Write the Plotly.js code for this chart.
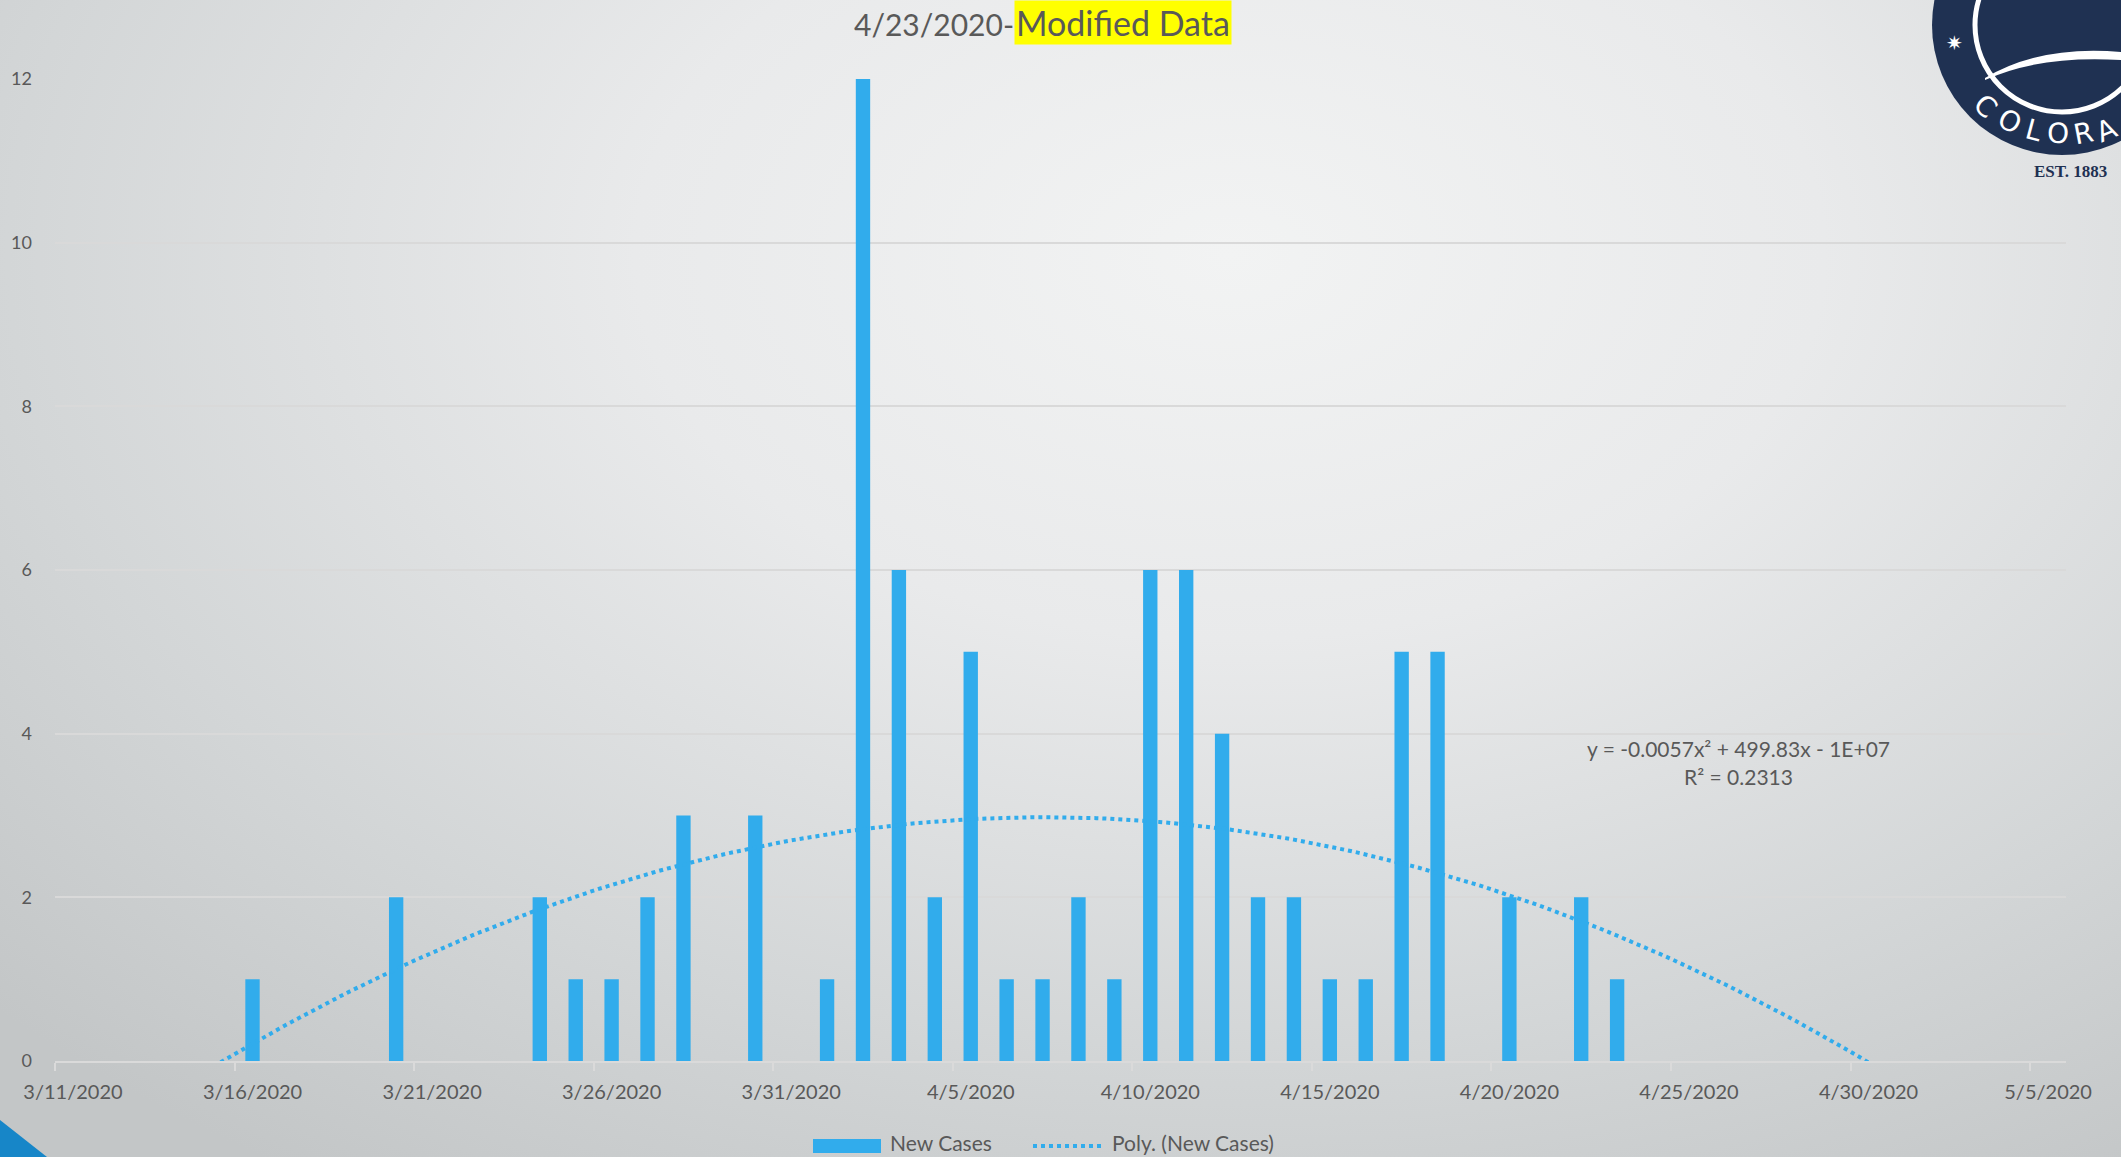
<!DOCTYPE html>
<html>
<head>
<meta charset="utf-8">
<script src="https://cdn.plot.ly/plotly-3.0.1.min.js"></script>
<style>
  html, body { margin: 0; padding: 0; width: 2121px; height: 1157px; overflow: hidden; }
  body { background: radial-gradient(ellipse 80% 95% at 58% 22%, #f2f3f3 0%, #e9eaeb 35%, #d3d6d7 72%, #c3c6c7 100%); }
  #chart { width: 2121px; height: 1157px; }
</style>
</head>
<body>
<div id="chart"></div>
<script>
// ---- data ----
const dates = [
  '2020-03-11','2020-03-12','2020-03-13','2020-03-14','2020-03-15','2020-03-16','2020-03-17',
  '2020-03-18','2020-03-19','2020-03-20','2020-03-21','2020-03-22','2020-03-23','2020-03-24',
  '2020-03-25','2020-03-26','2020-03-27','2020-03-28','2020-03-29','2020-03-30','2020-03-31',
  '2020-04-01','2020-04-02','2020-04-03','2020-04-04','2020-04-05','2020-04-06','2020-04-07',
  '2020-04-08','2020-04-09','2020-04-10','2020-04-11','2020-04-12','2020-04-13','2020-04-14',
  '2020-04-15','2020-04-16','2020-04-17','2020-04-18','2020-04-19','2020-04-20','2020-04-21',
  '2020-04-22','2020-04-23'
];
const newCases = [
  0,0,0,0,0,1,0,
  0,0,2,0,0,0,2,
  1,1,2,3,0,3,0,
  1,12,6,2,5,1,1,
  2,1,6,6,4,2,2,
  1,1,5,5,0,2,0,
  2,1
];
const seriesName = 'New Cases';
const trendName = 'Poly. (New Cases)';
const titleDate = '4/23/2020-';
const titleHighlight = 'Modified Data';
const eqLine1 = 'y = -0.0057x² + 499.83x - 1E+07';
const eqLine2 = 'R² = 0.2313';
const yTicks = [0, 2, 4, 6, 8, 10, 12];
const xRange = ['2020-03-11', '2020-05-06'];

// ---- polynomial (order 2) least-squares trendline computed from the data ----
const DAY = 86400000;
const t0 = Date.parse(dates[0] + 'T00:00:00Z');
const ts = dates.map(d => (Date.parse(d + 'T00:00:00Z') - t0) / DAY);
function fitQuad(xs, ys) {
  let S = [0,0,0,0,0], T = [0,0,0];
  for (let i = 0; i < xs.length; i++) {
    let p = 1;
    for (let k = 0; k < 5; k++) { S[k] += p; if (k < 3) T[k] += p * ys[i]; p *= xs[i]; }
  }
  const A = [[S[0],S[1],S[2],T[0]],[S[1],S[2],S[3],T[1]],[S[2],S[3],S[4],T[2]]];
  for (let c = 0; c < 3; c++) {
    for (let r = c + 1; r < 3; r++) {
      const f = A[r][c] / A[c][c];
      for (let k = c; k < 4; k++) A[r][k] -= f * A[c][k];
    }
  }
  const x = [0,0,0];
  for (let r = 2; r >= 0; r--) {
    let s = A[r][3];
    for (let k = r + 1; k < 3; k++) s -= A[r][k] * x[k];
    x[r] = s / A[r][r];
  }
  return x; // c0 + c1 t + c2 t^2
}
const coef = fitQuad(ts, newCases);
const endT = (Date.parse(xRange[1] + 'T00:00:00Z') - t0) / DAY;
const trendX = [], trendY = [];
for (let t = 0; t <= endT; t += 0.25) {
  trendX.push(new Date(t0 + (t + 0.5) * DAY).toISOString());
  trendY.push(coef[0] + coef[1] * t + coef[2] * t * t);
}

// ---- styling ----
const FONT = 'Lato, "Open Sans", sans-serif';
const TXT = '#595959';
const BLUE = '#31acec';

// pixel -> paper helpers (plot area: x 55..2066, y 79..1061)
const L = 55, R = 55, TOP = 79, BOT = 96, W = 2121, H = 1157;
const PW = W - L - R, PH = H - TOP - BOT;
const px = X => (X - L) / PW;
const py = Y => (H - BOT - Y) / PH;

const traces = [
  {
    type: 'bar', name: seriesName, x: dates, y: newCases,
    xperiod: DAY, xperiodalignment: 'middle',
    marker: { color: BLUE, line: { width: 0 } },
    hoverinfo: 'x+y', showlegend: false
  },
  {
    type: 'scatter', mode: 'lines', name: trendName, x: trendX, y: trendY,
    line: { color: BLUE, width: 4, dash: 'dot' },
    hoverinfo: 'skip', showlegend: false
  }
];

// logo geometry (decorative, pixel space)
const LC = { x: 2062, y: 25, r: 130 };
const logoLetters = [
  { ch: 'C', X: 1986, Y: 106 }, { ch: 'O', X: 2010, Y: 121 }, { ch: 'L', X: 2034, Y: 130 },
  { ch: 'O', X: 2058, Y: 134 }, { ch: 'R', X: 2083, Y: 134 }, { ch: 'A', X: 2106, Y: 131 }
];

const shapes = [
  // logo seal
  { type: 'circle', xref: 'paper', yref: 'paper', layer: 'below',
    x0: px(LC.x - LC.r), x1: px(LC.x + LC.r), y0: py(LC.y + LC.r), y1: py(LC.y - LC.r),
    fillcolor: '#1f3152', line: { width: 0 } },
  { type: 'circle', xref: 'paper', yref: 'paper', layer: 'below',
    x0: px(LC.x - 87), x1: px(LC.x + 87), y0: py(LC.y + 87), y1: py(LC.y - 87),
    fillcolor: 'rgba(0,0,0,0)', line: { color: '#ffffff', width: 5 } },
  { type: 'path', xref: 'paper', yref: 'paper', layer: 'below',
    path: `M ${px(1985)},${py(78)} Q ${px(2040)},${py(45)} ${px(2121)},${py(52)} L ${px(2121)},${py(60)} Q ${px(2040)},${py(55)} ${px(1985)},${py(80)} Z`,
    fillcolor: '#ffffff', line: { width: 0 } },
  // blue corner triangle
  { type: 'path', xref: 'paper', yref: 'paper', layer: 'below',
    path: `M ${px(0)},${py(1120)} L ${px(47)},${py(1157)} L ${px(0)},${py(1157)} Z`,
    fillcolor: '#1786c8', line: { width: 0 } },
  // custom legend
  { type: 'rect', xref: 'paper', yref: 'paper',
    x0: px(813), x1: px(881), y0: py(1153), y1: py(1139),
    fillcolor: BLUE, line: { width: 0 } },
  { type: 'line', xref: 'paper', yref: 'paper',
    x0: px(1033), x1: px(1105), y0: py(1146), y1: py(1146),
    line: { color: BLUE, width: 4, dash: 'dot' } }
];

const annotations = [
  { xref: 'paper', yref: 'paper', x: px(1016), y: py(24), xanchor: 'right', yanchor: 'middle',
    text: titleDate, showarrow: false, font: { family: FONT, size: 30, color: TXT } },
  { xref: 'paper', yref: 'paper', x: px(1014), y: py(23), xanchor: 'left', yanchor: 'middle',
    text: titleHighlight, showarrow: false, bgcolor: '#ffff00', borderpad: 1,
    font: { family: FONT, size: 34, color: TXT } },
  { xref: 'paper', yref: 'paper', x: px(1738), y: py(748), xanchor: 'center', yanchor: 'middle',
    text: eqLine1, showarrow: false, font: { family: FONT, size: 21, color: TXT } },
  { xref: 'paper', yref: 'paper', x: px(1738), y: py(776), xanchor: 'center', yanchor: 'middle',
    text: eqLine2, showarrow: false, font: { family: FONT, size: 21, color: TXT } },
  { xref: 'paper', yref: 'paper', x: px(888), y: py(1142), xanchor: 'left', yanchor: 'middle',
    text: seriesName, showarrow: false, font: { family: FONT, size: 21, color: TXT } },
  { xref: 'paper', yref: 'paper', x: px(1110), y: py(1142), xanchor: 'left', yanchor: 'middle',
    text: trendName, showarrow: false, font: { family: FONT, size: 21, color: TXT } },
  // logo text
  { xref: 'paper', yref: 'paper', x: px(2070), y: py(171), xanchor: 'center', yanchor: 'middle',
    text: '<b>EST. 1883</b>', showarrow: false,
    font: { family: '"Liberation Serif", serif', size: 17, color: '#1f3152' } },
  { xref: 'paper', yref: 'paper', x: px(1954), y: py(43), xanchor: 'center', yanchor: 'middle',
    text: '✷', showarrow: false, font: { family: '"DejaVu Sans"', size: 20, color: '#ffffff' } }
];
logoLetters.forEach(o => {
  const ang = -Math.atan2(o.X - LC.x, o.Y - LC.y) * 180 / Math.PI;
  annotations.push({ xref: 'paper', yref: 'paper', x: px(o.X), y: py(o.Y), xanchor: 'center', yanchor: 'middle',
    text: o.ch, showarrow: false, textangle: ang,
    font: { family: '"DejaVu Sans"', size: 28, color: '#ffffff' } });
});

const layout = {
  width: W, height: H, autosize: false,
  margin: { l: L, r: R, t: TOP, b: BOT, pad: 0 },
  paper_bgcolor: 'rgba(0,0,0,0)', plot_bgcolor: 'rgba(0,0,0,0)',
  showlegend: false,
  bargap: 0.6,
  font: { family: FONT, color: TXT },
  xaxis: {
    type: 'date', range: xRange, tick0: xRange[0], dtick: 5 * DAY,
    tickformat: '%-m/%-d/%Y', ticklabelshift: 18, ticklabelstandoff: 4,
    ticks: 'outside', ticklen: 8, tickwidth: 2, tickcolor: '#dadada',
    showline: true, linecolor: '#dadada', linewidth: 2,
    showgrid: false, zeroline: false,
    tickfont: { family: FONT, size: 20, color: TXT }, fixedrange: true
  },
  yaxis: {
    range: [0, 12], tickvals: yTicks, ticktext: yTicks.map(String),
    showgrid: true, gridcolor: '#d9d9d9', gridwidth: 2,
    zeroline: false, showline: false, ticks: '', ticklabelstandoff: 22,
    tickfont: { family: FONT, size: 18, color: TXT }, fixedrange: true
  },
  shapes: shapes,
  annotations: annotations
};

Plotly.newPlot('chart', traces, layout, { displayModeBar: false, staticPlot: true });
</script>
</body>
</html>
